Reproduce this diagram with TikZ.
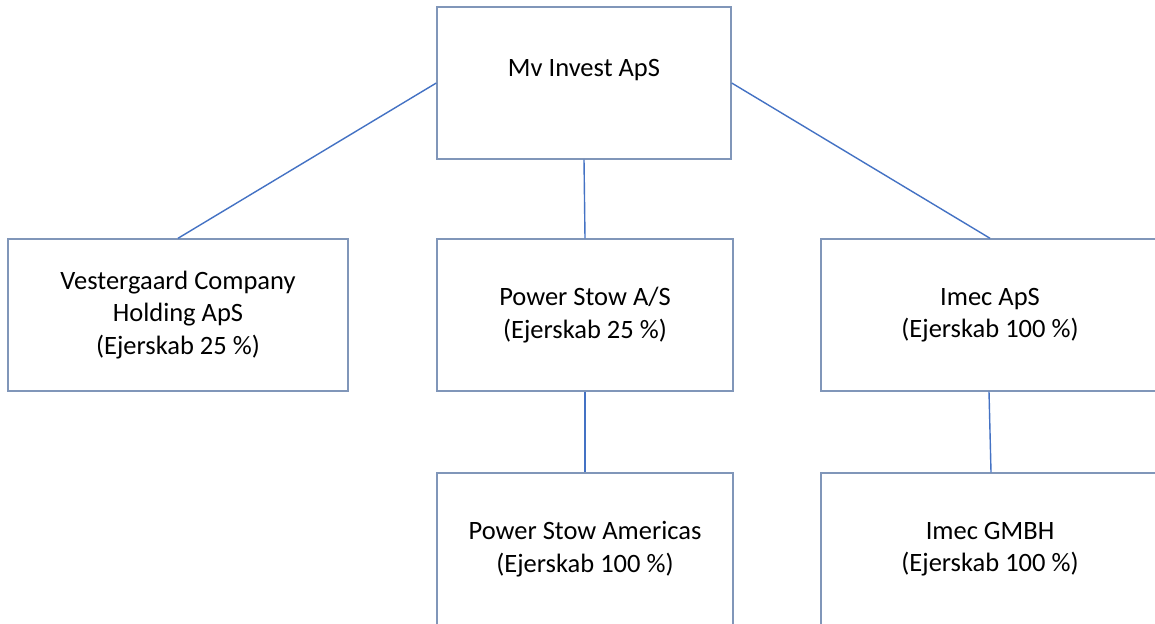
\documentclass[tikz,border=0pt]{standalone}
\usepackage{fontspec}
\setmainfont{Carlito}
\usetikzlibrary{positioning}
\definecolor{boxline}{RGB}{128,150,185}
\definecolor{linkblue}{RGB}{68,114,196}
\tikzstyle{block} = [draw=boxline, line width=1.4pt, fill=white, rectangle,
    inner sep=0pt, align=center, minimum width=294pt, minimum height=152pt,
    font=\fontsize{26.5}{32.5}\selectfont]
\tikzstyle{link} = [draw=linkblue, line width=1.4pt]

\begin{document}
\begin{tikzpicture}[x=1pt, y=-1pt]
    \useasboundingbox (0,0) rectangle (1155,623);
    \clip (0,0) rectangle (1155,623);
    \fill[white] (0,0) rectangle (1155,623);
    \node [block] (mv) at (584,83) {};
    \node [font=\fontsize{26.5}{32.5}\selectfont] (mvtext) at (584,70) {Mv Invest ApS};
    \node [block, minimum width=340pt] (vester) at (178,315) {Vestergaard Company\\Holding ApS\\(Ejerskab 25 \%)};
    \node [block, minimum width=296pt] (power) at (585,315) {Power Stow A/S\\(Ejerskab 25 \%)};
    \node [block, minimum width=338pt] (imec) at (990,315) {Imec ApS\\(Ejerskab 100 \%)};
    \node [block, minimum width=296pt] (americas) at (585,549) {Power Stow Americas\\(Ejerskab 100 \%)};
    \node [block, minimum width=338pt] (gmbh) at (990,549) {Imec GMBH\\(Ejerskab 100 \%)};
    % connectors
    \draw [link] (mv.west) -- (vester.north);
    \draw [link] (mv.south) -- (power.north);
    \draw [link] (mv.east) -- (imec.north);
    \draw [link] (power.south) -- (americas.north);
    \draw [link] ([xshift=-1pt]imec.south) -- ([xshift=1pt]gmbh.north);
\end{tikzpicture}
\end{document}
